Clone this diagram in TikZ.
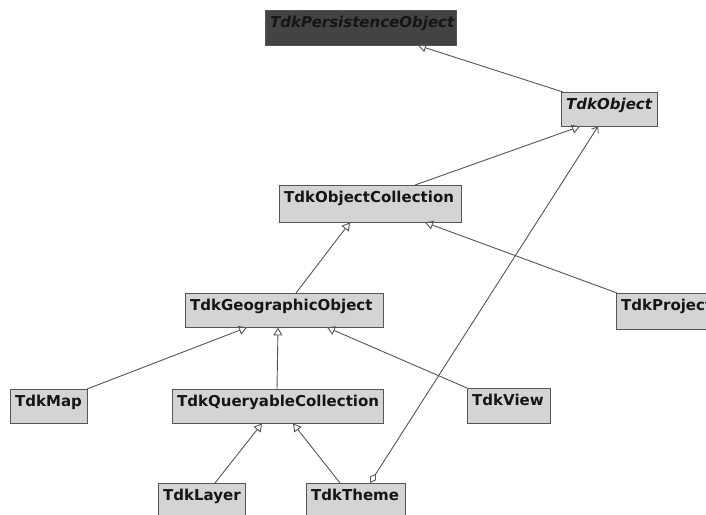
\documentclass[tikz,border=0pt]{standalone}
\usepackage{fontspec}
\usepackage{tikz}
\usetikzlibrary{arrows.meta}
\newfontfamily\clsfont{DejaVu Sans}
\definecolor{boxgray}{HTML}{D4D4D4}
\definecolor{edgegray}{HTML}{555555}
\definecolor{darkbox}{HTML}{434343}
\definecolor{inkgray}{HTML}{151515}
\tikzstyle{cls}=[draw=edgegray,fill=boxgray,anchor=north west,inner xsep=5pt,inner ysep=0pt,
  align=left,text height=17pt,text depth=17pt,font=\clsfont\bfseries\fontsize{15}{17}\selectfont,text=inkgray]
\tikzstyle{gen}=[draw=edgegray,line width=0.9pt,-{Triangle[open,length=8pt,width=9pt]}]
\tikzstyle{assoc}=[draw=edgegray,line width=0.9pt,{Diamond[open,length=11pt,width=7pt]}-{Straight Barb[length=5pt,width=8pt]}]

\begin{document}
\begin{tikzpicture}[x=1pt,y=-1pt]
\useasboundingbox (0,0) rectangle (706,514);
\clip (0,0) rectangle (706,514);
% classes
\node[cls,fill=darkbox,text width=181pt,font=\clsfont\bfseries\itshape\fontsize{15}{17}\selectfont,text height=17pt,text depth=18pt] (pers) at (265,10) {TdkPersistenceObject};
\node[cls,text width=86pt,font=\clsfont\bfseries\itshape\fontsize{15}{17}\selectfont] (obj) at (561,92) {TdkObject};
\node[cls,text width=172pt,text depth=20pt] (coll) at (279,185) {TdkObjectCollection};
\node[cls,text width=188pt] (geo) at (185,293) {TdkGeographicObject};
\node[cls,text width=90pt,text depth=19pt] (proj) at (616,293) {TdkProject};
\node[cls,text width=67pt] (map) at (10,389) {TdkMap};
\node[cls,text width=201pt] (query) at (172,389) {TdkQueryableCollection};
\node[cls,text width=73pt,text depth=18pt] (view) at (467,388) {TdkView};
\node[cls,text width=77pt,text depth=25pt] (layer) at (158,483) {TdkLayer};
\node[cls,text width=89pt,text depth=25pt] (theme) at (306,483) {TdkTheme};

% generalizations
\foreach \a/\sa/\b/\sb in {obj/2/pers/153,coll/136/obj/19,geo/111/coll/71,proj/1/coll/146,
  map/77/geo/62,query/105/geo/93,view/0/geo/142,layer/57/query/90,theme/34/query/121}
  \draw[gen] ([xshift=\sa]\a.north west) -- ([xshift=\sb]\b.south west);

% aggregation
\draw[assoc] ([xshift=64]theme.north west) -- ([xshift=37]obj.south west);
\end{tikzpicture}
\end{document}
